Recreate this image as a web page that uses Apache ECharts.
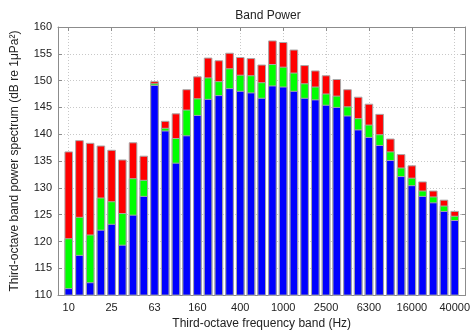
<!DOCTYPE html>
<html>
<head>
<meta charset="utf-8">
<script src="https://cdn.jsdelivr.net/npm/echarts@6/dist/echarts.min.js"></script>
<style>
  html, body { margin: 0; padding: 0; background: #fff; }
  #chart { width: 473px; height: 335px; }
</style>
</head>
<body>
<div id="chart"></div>
<script>
// Third-octave band centre frequencies (Hz)
const bands = ['10', '12.5', '16', '20', '25', '31.5', '40', '50', '63', '80', '100', '125',
  '160', '200', '250', '315', '400', '500', '630', '800', '1000', '1250', '1600', '2000',
  '2500', '3150', '4000', '5000', '6300', '8000', '10000', '12500', '16000', '20000',
  '25000', '31500', '40000'];

// Band power levels (dB re 1 µPa²)
const maxLevel = [136.8, 138.9, 138.4, 137.9, 137.1, 135.3, 138.5, 136.0, 149.9, 142.5, 143.9, 148.4,
  150.8, 154.3, 153.8, 155.2, 154.4, 154.2, 153.0, 157.5, 157.2, 155.8, 152.9, 151.9,
  151.0, 150.3, 148.4, 147.0, 145.7, 143.8, 139.2, 136.3, 134.2, 131.2, 129.5, 127.8, 125.7];
const midLevel = [120.6, 124.6, 121.3, 128.2, 127.5, 125.3, 131.8, 131.5, 149.5, 141.2, 139.3, 144.6,
  146.7, 150.6, 149.9, 152.3, 151.1, 151.0, 149.7, 153.1, 152.6, 151.5, 149.5, 148.9,
  147.6, 147.2, 145.2, 143.0, 141.8, 140.0, 136.8, 133.8, 131.9, 129.5, 128.4, 126.7, 124.8];
const minLevel = [111.3, 117.5, 112.4, 122.2, 123.3, 119.4, 125.0, 128.5, 149.2, 140.7, 134.7, 139.8,
  143.6, 146.6, 147.3, 148.6, 148.1, 147.8, 146.8, 149.1, 148.9, 148.1, 146.8, 146.5,
  145.5, 145.1, 143.5, 140.9, 139.5, 138.0, 135.2, 132.2, 130.5, 128.5, 127.3, 125.7, 124.0];

// Blank slots either side of the band list give the half-band margins at both ends
const cats = [''].concat(bands, ['']);
const pad = arr => ['-'].concat(arr, ['-']);
const labelEvery = idx => idx % 4 === 1;

const font = 'Liberation Sans, Arial, sans-serif';
const axisGray = '#8c8c8c';
const gridStyle = { color: '#c8c8c8', type: [1, 2], width: 1 };

const chart = echarts.init(document.getElementById('chart'), null, { renderer: 'canvas' });

const barSeries = (name, data, color) => ({
  name, type: 'bar', data: pad(data), barWidth: '80%', barGap: '-100%',
  itemStyle: { color, borderColor: '#a8a8a8', borderWidth: 1 },
  silent: true, animation: false
});

chart.setOption({
  animation: false,
  title: {
    text: 'Band Power', left: 263, top: 5, textAlign: 'center',
    textStyle: { fontFamily: font, fontSize: 12, fontWeight: 'normal', color: '#222' }
  },
  grid: { left: 58, right: 5, top: 27, bottom: 37 },
  xAxis: [{
    type: 'category', data: cats, boundaryGap: false, position: 'bottom',
    axisLine: { lineStyle: { color: axisGray } },
    axisTick: { inside: true, length: 4, interval: labelEvery, lineStyle: { color: axisGray } },
    axisLabel: { interval: labelEvery, fontFamily: font, fontSize: 11, color: '#222', margin: 7 },
    splitLine: { show: true, interval: labelEvery, lineStyle: gridStyle },
    name: 'Third-octave frequency band (Hz)', nameLocation: 'middle', nameGap: 21,
    nameTextStyle: { fontFamily: font, fontSize: 12, color: '#222' }
  }, {
    type: 'category', data: cats, boundaryGap: false, position: 'top',
    axisLine: { lineStyle: { color: axisGray } },
    axisTick: { inside: true, length: 4, interval: labelEvery, lineStyle: { color: axisGray } },
    axisLabel: { show: false }, splitLine: { show: false }
  }],
  yAxis: [{
    type: 'value', min: 110, max: 160, interval: 5, position: 'left',
    axisLine: { show: true, lineStyle: { color: axisGray } },
    axisTick: { show: true, inside: true, length: 4, lineStyle: { color: axisGray } },
    axisLabel: { fontFamily: font, fontSize: 11, color: '#222', margin: 6 },
    splitLine: { show: true, lineStyle: gridStyle },
    name: 'Third-octave band power spectrum (dB re 1μPa²)', nameLocation: 'middle', nameGap: 37,
    nameTextStyle: { fontFamily: font, fontSize: 12, color: '#222' }
  }, {
    type: 'value', min: 110, max: 160, interval: 5, position: 'right',
    axisLine: { show: true, lineStyle: { color: axisGray } },
    axisTick: { show: true, inside: true, length: 4, lineStyle: { color: axisGray } },
    axisLabel: { show: false }, splitLine: { show: false }
  }],
  series: [
    barSeries('Maximum', maxLevel, '#ff0000'),
    barSeries('Middle', midLevel, '#00ff00'),
    barSeries('Minimum', minLevel, '#0000ff')
  ]
});
</script>
</body>
</html>
